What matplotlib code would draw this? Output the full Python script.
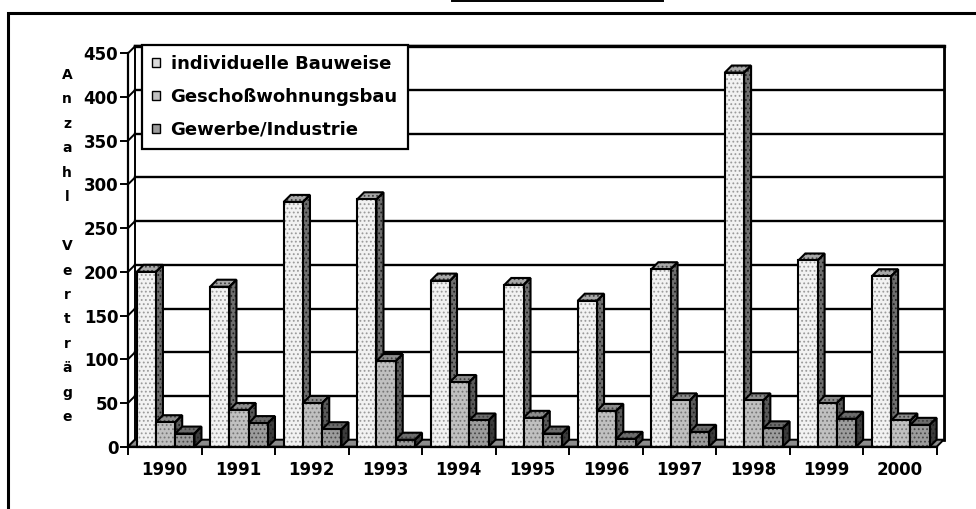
import matplotlib
matplotlib.use('Agg')
import matplotlib.pyplot as plt
from matplotlib.patches import Polygon, Patch, Rectangle
from matplotlib.lines import Line2D

# Kaufverträge je Jahr nach Art der Bebauung
jahre = ['1990', '1991', '1992', '1993', '1994', '1995', '1996', '1997', '1998', '1999', '2000']
individuell = [200, 183, 280, 283, 190, 185, 167, 203, 428, 213, 195]
geschoss = [28, 42, 50, 98, 74, 33, 41, 53, 53, 50, 30]
gewerbe = [15, 27, 20, 8, 30, 15, 9, 17, 21, 32, 25]
serien = ['individuelle Bauweise', 'Geschoßwohnungsbau', 'Gewerbe/Industrie']
y_ticks = [0, 50, 100, 150, 200, 250, 300, 350, 400, 450]

# Vorderseite, Deckel, Seite, Punktfarbe
farben = [
    ('#f2f2f2', '#a8a8a8', '#6e6e6e', '#9a9a9a'),
    ('#c0c0c0', '#8c8c8c', '#5a5a5a', '#767676'),
    ('#9c9c9c', '#6c6c6c', '#3c3c3c', '#484848'),
]

plt.rcParams['font.family'] = ['DejaVu Sans']
plt.rcParams['font.weight'] = 'bold'
plt.rcParams['hatch.linewidth'] = 0.8

W, H = 976, 509
fig = plt.figure(figsize=(W / 100, H / 100), dpi=100)

# Achsenfläche in Pixeln (vordere Ebene)
links, unten, rechts, oben = 128, 446.7, 936.7, 53.3
ax = fig.add_axes([links / W, 1 - unten / H, (rechts - links) / W, (unten - oben) / H])
n = len(jahre)
ymax = y_ticks[-1]
ax.set_xlim(0, n)
ax.set_ylim(0, ymax)

# Tiefe der 3D-Darstellung in Dateneinheiten
tiefe = 7
dx = tiefe * n / (rechts - links)
dy = tiefe * ymax / (unten - oben)

# Rückwand mit Gitterlinien, Seitenwand, Boden
for v in y_ticks[1:]:
    ax.plot([dx, n + dx], [v + dy, v + dy], color='black', lw=1.7, zorder=1, clip_on=False)
for v in y_ticks:
    ax.plot([0, dx], [v, v + dy], color='black', lw=1.4, zorder=1, clip_on=False)
ax.plot([dx, dx], [dy, ymax + dy], color='black', lw=1.4, zorder=1, clip_on=False)
ax.plot([n + dx + 0.02, n + dx + 0.02], [dy, ymax + dy], color='#909090', lw=1.4, zorder=1, clip_on=False)
ax.plot([n + dx, n + dx], [dy, ymax + dy], color='black', lw=2.0, zorder=1, clip_on=False)
ax.plot([dx, n + dx], [ymax + dy, ymax + dy], color='black', lw=2.4, zorder=1, clip_on=False)
ax.add_patch(Polygon([(0, 0), (n, 0), (n + dx, dy), (dx, dy)], closed=True,
                     facecolor='#8c8c8c', edgecolor='black', lw=1.4, zorder=2, clip_on=False))


def flaeche(punkte, farbe, punkt_farbe, z):
    plt.rcParams['hatch.color'] = punkt_farbe
    ax.add_patch(Polygon(punkte, closed=True, facecolor=farbe, edgecolor=None, lw=0,
                         hatch='....', zorder=z, clip_on=False))
    ax.add_patch(Polygon(punkte, closed=True, fill=False, edgecolor='black', lw=1.5,
                         joinstyle='miter', zorder=z + 0.01, clip_on=False))


versatz = 0.118
bw = 0.262
for s, werte in enumerate([individuell, geschoss, gewerbe]):
    vorne, deckel, seite, punkte = farben[s]
    z = 3 + s
    xs = [i + versatz + s * bw for i in range(n)]
    for x, v in zip(xs, werte):
        flaeche([(x + bw, 0), (x + bw + dx, dy), (x + bw + dx, v + dy), (x + bw, v)], seite, '#202020', z)
        flaeche([(x, v), (x + bw, v), (x + bw + dx, v + dy), (x + dx, v + dy)], deckel, '#404040', z)
    plt.rcParams['hatch.color'] = punkte
    ax.bar(xs, werte, width=bw, align='edge', color=vorne, edgecolor=None, lw=0,
           hatch='....', zorder=z + 0.2, clip_on=False)
    ax.bar(xs, werte, width=bw, align='edge', fill=False, edgecolor='black', lw=1.5,
           zorder=z + 0.21, clip_on=False)

# Achsen
for side in ['top', 'right']:
    ax.spines[side].set_visible(False)
ax.spines['left'].set_linewidth(1.6)
ax.spines['bottom'].set_linewidth(1.6)
ax.spines['left'].set_zorder(10)
ax.spines['bottom'].set_zorder(10)
ax.set_yticks(y_ticks)
ax.tick_params(axis='y', direction='out', length=6, width=1.4, pad=1, labelsize=12)
ax.set_xticks(range(n + 1))
ax.set_xticklabels([])
ax.set_xticks([i + 0.5 for i in range(n)], minor=True)
ax.set_xticklabels(jahre, minor=True)
ax.tick_params(axis='x', which='major', direction='out', length=6, width=1.4)
ax.tick_params(axis='x', which='minor', length=0, pad=10, labelsize=12)
ax.patch.set_visible(False)

# senkrecht gestapelte Achsenbeschriftung
fig.text(67 / W, 1 - 68 / H, '\n'.join('Anzahl Verträge'), ha='center', va='top',
         fontsize=10, linespacing=1.95)

# Legende
handles = [Patch(facecolor=f[0], edgecolor='black', lw=1.0) for f in farben]
handles[0].set_facecolor('#dcdcdc')
leg = fig.legend(handles, serien, loc='upper left', bbox_to_anchor=(141.7 / W, 1 - 45 / H),
                 bbox_transform=fig.transFigure, borderaxespad=0, fontsize=13,
                 handlelength=0.45, handleheight=0.45, handletextpad=0.6,
                 labelspacing=0.83, borderpad=0.55, fancybox=False, framealpha=1)
leg.get_frame().set_edgecolor('black')
leg.get_frame().set_linewidth(1.6)
leg.set_zorder(20)

# Rahmen um das Diagramm
fig.add_artist(Rectangle((7.5 / W, -0.1), 1.2, 1 - 13.5 / H + 0.1, transform=fig.transFigure,
                         fill=False, edgecolor='black', lw=2.2))
fig.add_artist(Line2D([452 / W, 663 / W], [1 - 0.8 / H, 1 - 0.8 / H], transform=fig.transFigure,
                      color='black', lw=1.4))

fig.savefig('out.png', dpi=100)
